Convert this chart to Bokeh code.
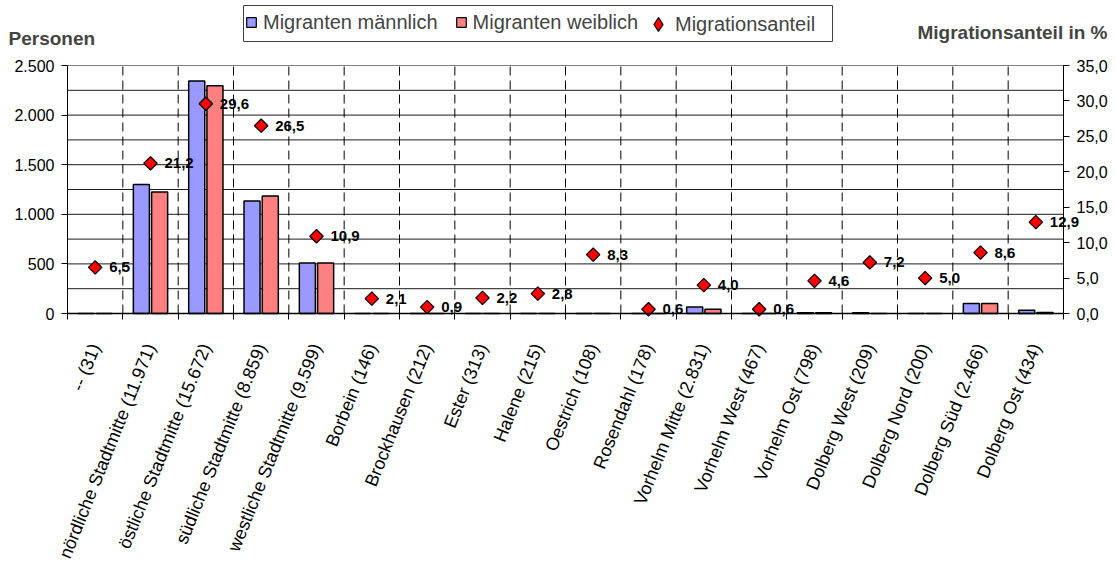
import math
from bokeh.plotting import figure
from bokeh.models import (ColumnDataSource, Range1d, LinearAxis, FixedTicker,
                          Legend, LegendItem, LabelSet, Label, BoxAnnotation)
from bokeh.transform import dodge
from bokeh.embed import file_html
from bokeh.resources import INLINE
from bokeh.core.properties import value

# ---------------- data ----------------
categories = ["-- (31)", "nördliche Stadtmitte (11.971)", "östliche Stadtmitte (15.672)",
              "südliche Stadtmitte (8.859)", "westliche Stadtmitte (9.599)", "Borbein (146)",
              "Brockhausen (212)", "Ester (313)", "Halene (215)", "Oestrich (108)",
              "Rosendahl (178)", "Vorhelm Mitte (2.831)", "Vorhelm West (467)",
              "Vorhelm Ost (798)", "Dolberg West (209)", "Dolberg Nord (200)",
              "Dolberg Süd (2.466)", "Dolberg Ost (434)"]
maennlich = [0, 1300, 2345, 1135, 510, 0, 0, 0, 0, 0, 0, 65, 0, 8, 8, 0, 100, 33]
weiblich = [0, 1225, 2295, 1185, 510, 0, 0, 0, 0, 0, 0, 43, 0, 8, 0, 0, 100, 10]
anteil = [6.5, 21.2, 29.6, 26.5, 10.9, 2.1, 0.9, 2.2, 2.8, 8.3, 0.6, 4.0, 0.6, 4.6,
          7.2, 5.0, 8.6, 12.9]
left_ticks = [0, 500, 1000, 1500, 2000, 2500]
left_tick_labels = ["0", "500", "1.000", "1.500", "2.000", "2.500"]
left_grid = [250, 500, 750, 1000, 1250, 1500, 1750, 2000, 2250]
right_ticks = [0, 5, 10, 15, 20, 25, 30, 35]
right_tick_labels = ["0,0", "5,0", "10,0", "15,0", "20,0", "25,0", "30,0", "35,0"]
series_names = ["Migranten männlich", "Migranten weiblich", "Migrationsanteil"]
left_title = "Personen"
right_title = "Migrationsanteil in %"

FONT = "Liberation Sans"
C_M, C_W, C_A = "#9999FF", "#FF8080", "#FF0000"
n = len(categories)
idx = list(range(n))
Y_MAX, P_MAX = 2500, 35
X0, X1 = -0.5, n - 0.5

# ---------------- pixel layout (canvas) ----------------
W, H = 1112, 560
FL, FR, FT, FB = 67, 1063, 65, 313          # plot area edges in canvas px
ux = (X1 - X0) / (FR - FL)
uy = Y_MAX / (FB - FT)
up = P_MAX / (FB - FT)

p = figure(width=W, height=H,
           x_range=Range1d(X0 - FL * ux, X1 + (W - FR) * ux),
           y_range=Range1d(-(H - FB) * uy, Y_MAX + FT * uy),
           output_backend="svg", toolbar_location=None,
           min_border=0, min_border_left=0, min_border_right=0,
           min_border_top=0, min_border_bottom=0)
p.extra_y_ranges = {"pct": Range1d(-(H - FB) * up, P_MAX + FT * up)}
p.background_fill_color = "white"
p.border_fill_color = "white"
p.outline_line_color = None
p.xgrid.visible = False
p.ygrid.visible = False

src = ColumnDataSource(dict(
    idx=idx, m=maennlich, w=weiblich, a=anteil,
    lab=[f"{v:.1f}".replace(".", ",") for v in anteil],
))

# grid lines (plot area only)
hsrc = ColumnDataSource(dict(y=left_grid, x0=[X0] * len(left_grid), x1=[X1] * len(left_grid)))
p.segment(x0="x0", y0="y", x1="x1", y1="y", source=hsrc, line_color="#1a1a1a", line_width=1)
p.segment(x0=[X0], y0=[Y_MAX], x1=[X1], y1=[Y_MAX], line_color="#808080", line_width=1)
vb = [i + 0.5 for i in range(n - 1)]
vsrc = ColumnDataSource(dict(x=vb, y0=[0] * len(vb), y1=[Y_MAX] * len(vb)))
p.segment(x0="x", y0="y0", x1="x", y1="y1", source=vsrc, line_color="black",
          line_width=1, line_dash="9 5")

# bars
r_m = p.vbar(x=dodge("idx", -0.165, range=p.x_range), top="m", width=0.29, source=src,
             fill_color=C_M, line_color="black", line_width=1.5)
r_w = p.vbar(x=dodge("idx", 0.165, range=p.x_range), top="w", width=0.29, source=src,
             fill_color=C_W, line_color="black", line_width=1.5)

# legend swatch renderers: tiny markers that sit completely under the diamonds
sw_m = p.scatter(x="idx", y="a", source=src, y_range_name="pct", marker="square",
                 size=3, fill_color=C_M, line_color="black", line_width=1.2)
sw_w = p.scatter(x="idx", y="a", source=src, y_range_name="pct", marker="square",
                 size=3, fill_color=C_W, line_color="black", line_width=1.2)
sw_a = p.scatter(x="idx", y="a", source=src, y_range_name="pct", marker="diamond",
                 size=10, fill_color=C_A, line_color="black", line_width=1.2)
# Migrationsanteil diamonds
r_a = p.scatter(x="idx", y="a", source=src, y_range_name="pct", marker="square",
                angle=math.pi / 4, size=9.5, fill_color=C_A, line_color="black",
                line_width=1.2)

labels = LabelSet(x="idx", y="a", text="lab", source=src, y_range_name="pct",
                  x_offset=14, text_baseline="middle", text_font=value(FONT),
                  text_font_style="bold", text_font_size="15px", text_color="black")
p.add_layout(labels)

# x axis
xa = p.xaxis[0]
xa.fixed_location = 0
xa.bounds = (X0, X1)
xa.ticker = FixedTicker(ticks=idx, minor_ticks=[i - 0.5 for i in range(n + 1)])
xa.major_label_overrides = {i: c for i, c in zip(idx, categories)}
xa.major_label_orientation = math.radians(68)
xa.major_tick_out = 0
xa.major_tick_in = 0
xa.minor_tick_out = 6
xa.minor_tick_in = 0
xa.minor_tick_line_color = "black"
xa.axis_line_color = "black"
xa.axis_line_width = 1.5
xa.major_label_text_font = FONT
xa.major_label_text_font_size = "18px"
xa.major_label_text_color = "black"
xa.major_label_standoff = 25

# left axis
ya = p.yaxis[0]
ya.fixed_location = X0
ya.bounds = (0, Y_MAX)
ya.ticker = FixedTicker(ticks=left_ticks)
ya.major_label_overrides = {t: s for t, s in zip(left_ticks, left_tick_labels)}
ya.major_tick_out = 6
ya.major_tick_in = 0
ya.minor_tick_out = 0
ya.minor_tick_in = 0
ya.axis_line_color = "black"
ya.major_tick_line_color = "black"
ya.major_label_text_font = FONT
ya.major_label_text_font_size = "16px"
ya.major_label_text_color = "black"
ya.major_label_standoff = 7

# right axis
ra = LinearAxis(y_range_name="pct", ticker=FixedTicker(ticks=right_ticks),
                fixed_location=X1, bounds=(0, P_MAX))
ra.major_label_overrides = {t: s for t, s in zip(right_ticks, right_tick_labels)}
ra.major_tick_out = 6
ra.major_tick_in = 0
ra.minor_tick_out = 0
ra.minor_tick_in = 0
ra.axis_line_color = "black"
ra.major_tick_line_color = "black"
ra.major_label_text_font = FONT
ra.major_label_text_font_size = "16px"
ra.major_label_text_color = "black"
ra.major_label_standoff = 7
p.add_layout(ra, "right")

# legend frame + two borderless legends (bar swatches small, diamond swatch larger)
LEG_L, LEG_R, LEG_T, LEG_B = 243, 832, 5, 41
p.add_layout(BoxAnnotation(left=LEG_L, right=LEG_R, top=H - LEG_T, bottom=H - LEG_B,
                           left_units="screen", right_units="screen",
                           top_units="screen", bottom_units="screen",
                           fill_color="white", fill_alpha=1, line_color="#404040",
                           line_alpha=1, line_width=1))
leg_a = Legend(items=[LegendItem(label=series_names[0], renderers=[sw_m]),
                      LegendItem(label=series_names[1], renderers=[sw_w])],
               orientation="horizontal", location=(239, H - LEG_B + 7),
               label_text_font=FONT, label_text_font_size="20px",
               glyph_width=24, glyph_height=24, label_standoff=0, spacing=11,
               padding=6, margin=0, border_line_color=None,
               background_fill_alpha=0)
leg_b = Legend(items=[LegendItem(label=series_names[2], renderers=[sw_a])],
               orientation="horizontal", location=(641, H - LEG_B),
               label_text_font=FONT, label_text_font_size="20px",
               glyph_width=34, glyph_height=34, label_standoff=0, spacing=0,
               padding=1, margin=0, border_line_color=None,
               background_fill_alpha=0)
p.add_layout(leg_a)
p.add_layout(leg_b)

# axis titles
p.add_layout(Label(x=8, y=H - 38, x_units="screen", y_units="screen", text=left_title,
                   text_font=FONT, text_font_style="bold", text_font_size="19px",
                   text_baseline="middle", text_align="left"))
p.add_layout(Label(x=1107, y=H - 32, x_units="screen", y_units="screen", text=right_title,
                   text_font=FONT, text_font_style="bold", text_font_size="19px",
                   text_baseline="middle", text_align="right"))

open("out.html", "w").write(file_html(p, INLINE))
